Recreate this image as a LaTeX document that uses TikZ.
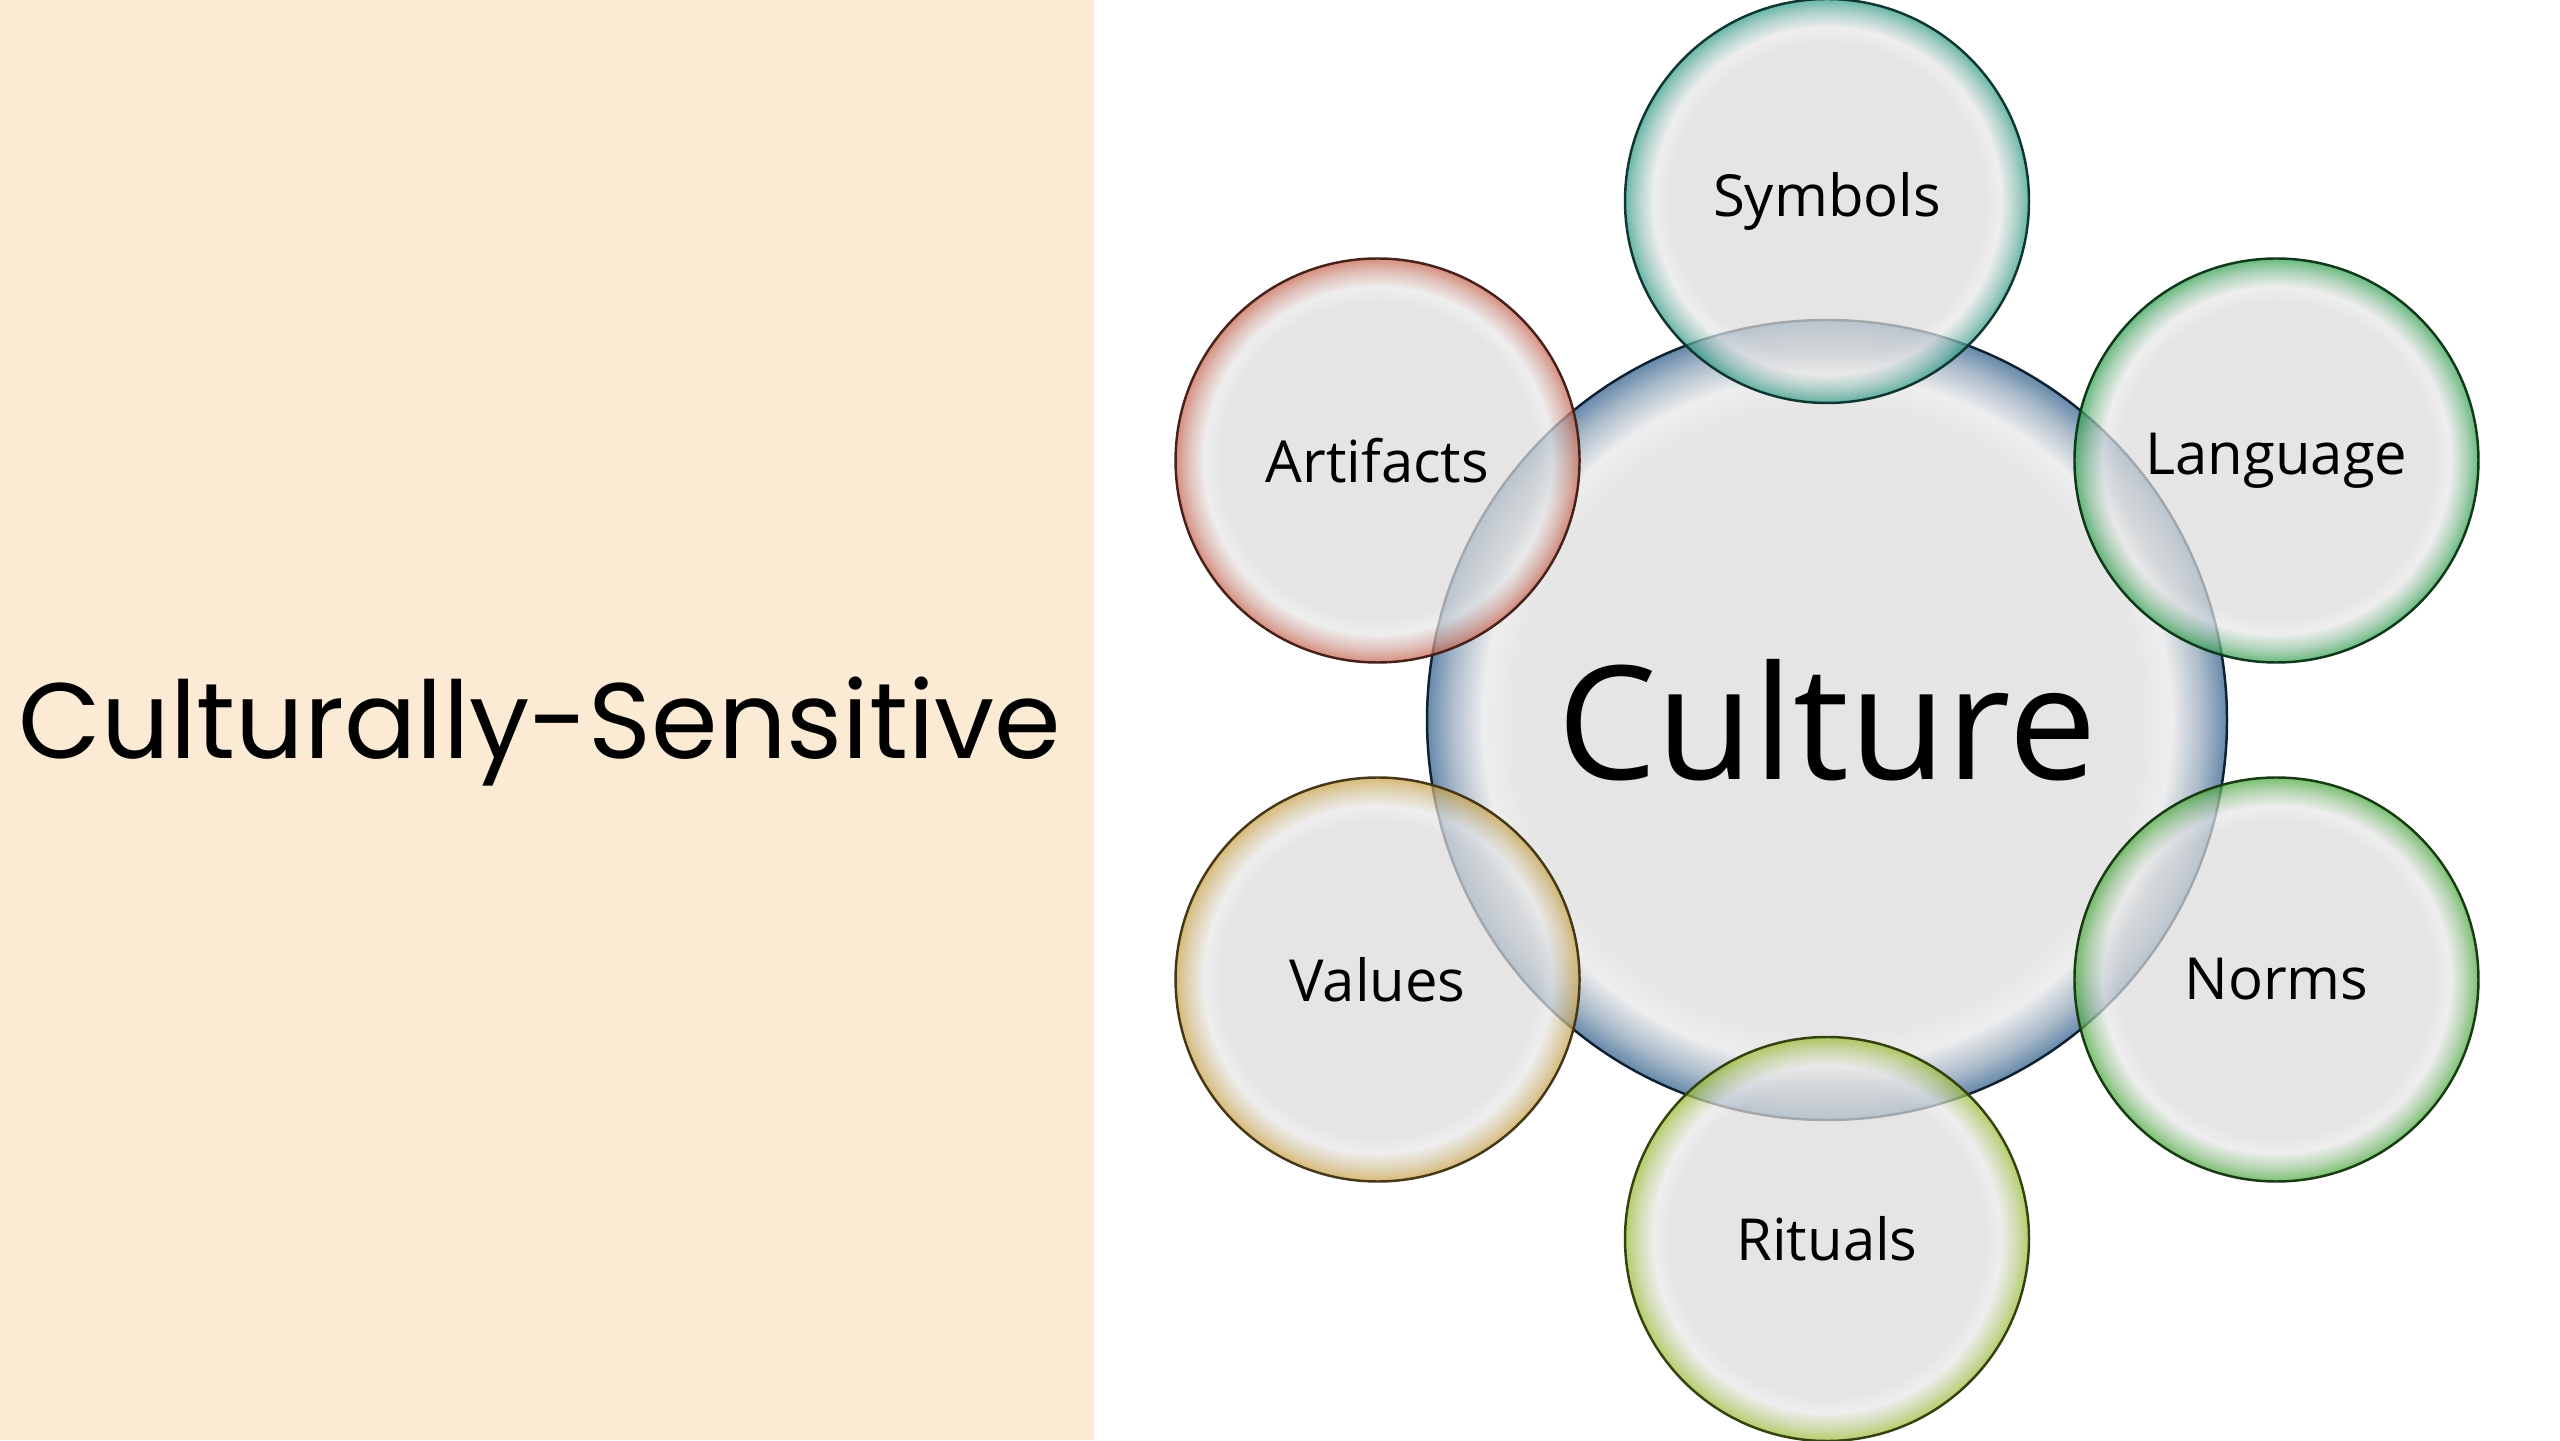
\documentclass[tikz,border=0pt]{standalone}
\usepackage{fontspec}
\newfontfamily\titlefont{Poppins}
\newfontfamily\labelfont{Open Sans}
\usetikzlibrary{positioning}

\definecolor{panelbeige}{HTML}{FBEBD5}
\definecolor{bubblegray}{HTML}{DCDCDC}
\definecolor{cultureblue}{HTML}{2B5C8A}
\definecolor{symbolteal}{HTML}{2E9C86}
\definecolor{artifactred}{HTML}{C8624C}
\definecolor{languagegreen}{HTML}{2EA04E}
\definecolor{valuegold}{HTML}{C9A043}
\definecolor{normgreen}{HTML}{47A83A}
\definecolor{ritualolive}{HTML}{98BC2E}
\colorlet{glowedge}{gray}

\pgfdeclareradialshading[glowedge]{glow}{\pgfpointorigin}{%
  color(0bp)=(bubblegray); color(19.5bp)=(bubblegray);
  color(21.5bp)=(bubblegray!65!white); color(23.5bp)=(glowedge!45!bubblegray);
  color(25bp)=(glowedge); color(50bp)=(glowedge)}

\begin{document}
\begin{tikzpicture}[
  bubble/.style={circle, inner sep=0pt, minimum size=4.04cm,
                 draw=#1!35!black, line width=0.7pt,
                 /utils/exec={\colorlet{glowedge}{#1}}, shade, shading=glow,
                 fill opacity=0.72, text opacity=1,
                 font=\labelfont\fontsize{16.5}{20}\selectfont},
  hub/.style={bubble=#1, minimum size=8cm,
              font=\labelfont\fontsize{45}{50}\selectfont}
]
\useasboundingbox (0,0) rectangle (25.6,14.4);
\fill[white] (0,0) rectangle (25.6,14.4);
\fill[panelbeige] (0,0) rectangle (10.94,14.4);

% title on the left panel
\node[font=\titlefont\fontsize{30.5}{36}\selectfont] (title) at (5.40,7.08) {Culturally-Sensitive};

% hub and the six bubbles round it
\node[hub=cultureblue] (culture) at (18.27,7.2) {Culture};
\node[bubble=symbolteal] (symbols) at ([shift={(90:5.19)}]culture.center) {Symbols};
\node[bubble=languagegreen] (language) at ([shift={(30:5.19)}]culture.center) {Language};
\node[bubble=normgreen] (norms) at ([shift={(-30:5.19)}]culture.center) {Norms};
\node[bubble=ritualolive] (rituals) at ([shift={(-90:5.19)}]culture.center) {Rituals};
\node[bubble=valuegold] (values) at ([shift={(-150:5.19)}]culture.center) {Values};
\node[bubble=artifactred] (artifacts) at ([shift={(150:5.19)}]culture.center) {Artifacts};
\end{tikzpicture}
\end{document}
